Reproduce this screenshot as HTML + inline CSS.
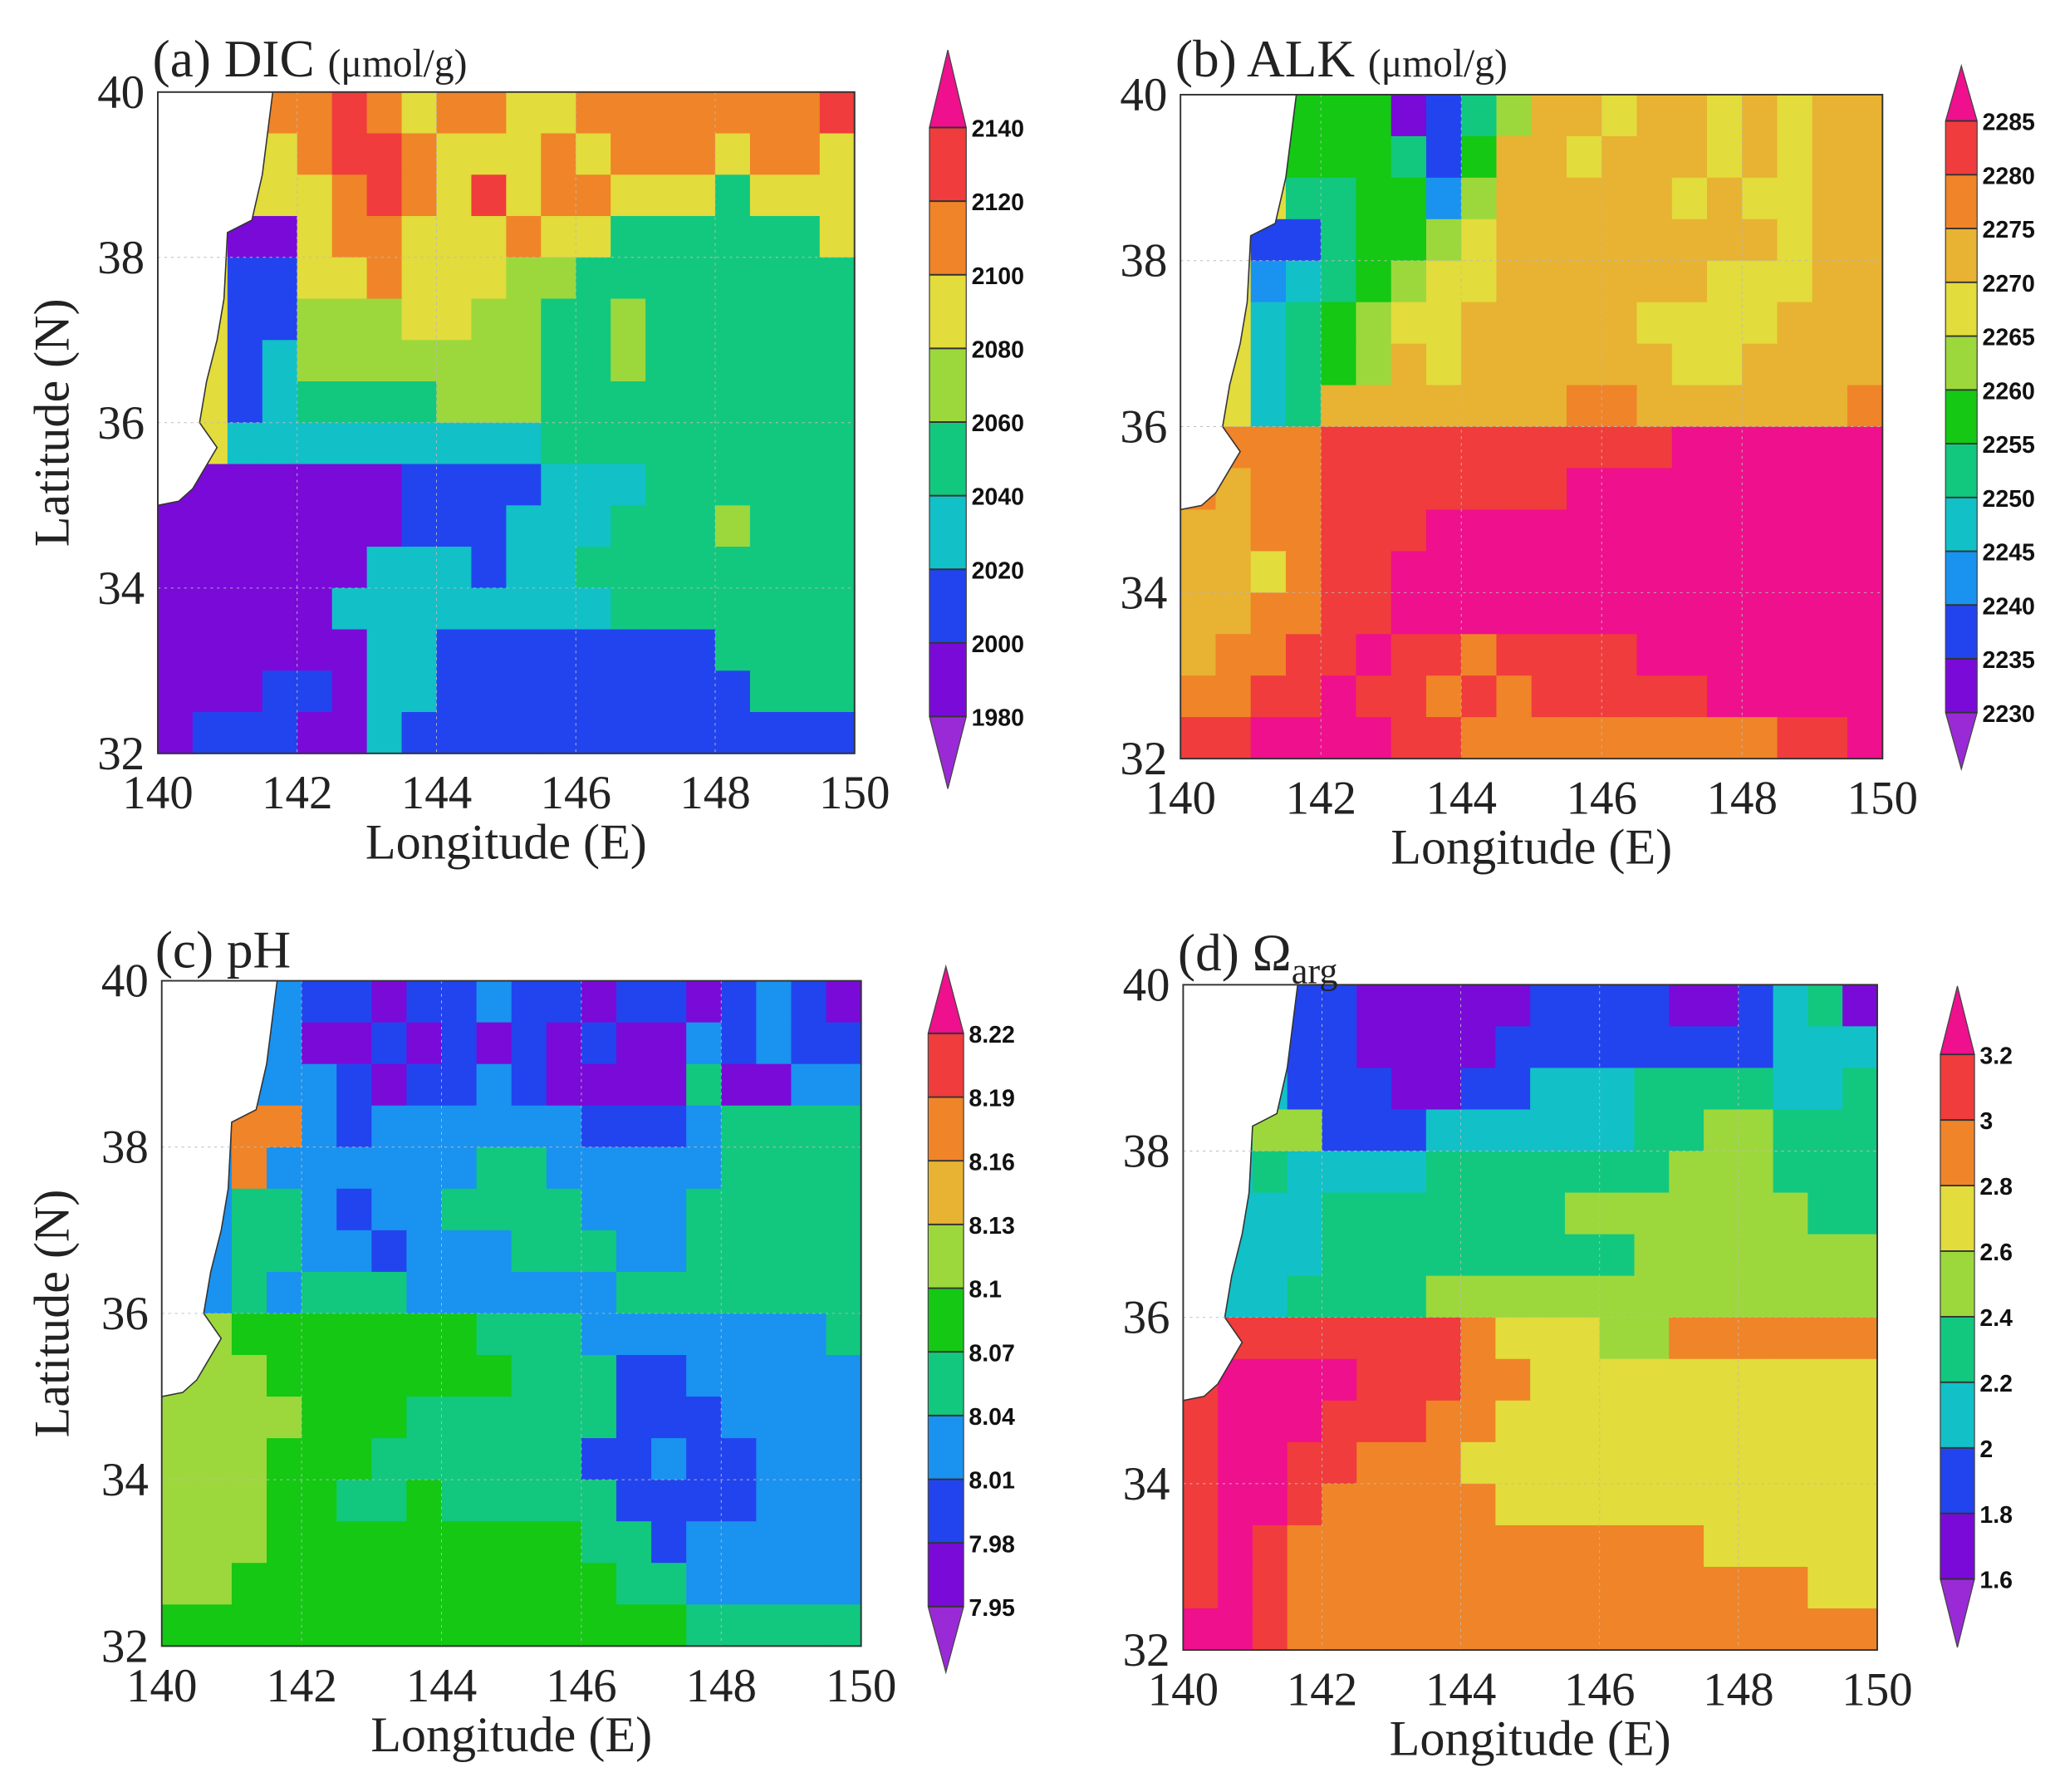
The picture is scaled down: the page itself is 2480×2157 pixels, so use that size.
<!DOCTYPE html>
<html><head><meta charset="utf-8"><style>
html,body{margin:0;padding:0;background:#fff;}
svg{display:block;}
text{font-family:"Liberation Serif",serif;fill:#222;}
.cb{font-family:"Liberation Sans",sans-serif;font-weight:bold;font-size:18px;fill:#111;}
</style></head><body>
<svg id="fig" xmlns="http://www.w3.org/2000/svg" width="2480" height="2157" viewBox="0 0 1567 1363"></svg>
<script>
const C={vi:"#9a2ad6",pu:"#7a0ad8",bl:"#2244ee",lb:"#1a92f0",cy:"#12c0c8",te:"#12c87e",gr:"#14c814",yg:"#9cd83c",ye:"#e2dc3c",oy:"#e8b232",or:"#f08428",re:"#f03c3c",ma:"#ee108c"};
const lonTicks=[140,142,144,146,148,150];
const latTicks=[32,34,36,38,40];
const levelsA=[1980,2000,2020,2040,2060,2080,2100,2120,2140];
const levelsB=[2230,2235,2240,2245,2250,2255,2260,2265,2270,2275,2280,2285];
const levelsC=["7.95","7.98","8.01","8.04","8.07","8.1","8.13","8.16","8.19","8.22"];
const levelsD=["1.6","1.8","2","2.2","2.4","2.6","2.8","3","3.2"];
// grid rows north (39.75) to south (32.25), 20 cols of 0.5 deg from 140; chars = bin index
const gridA=["66677876776677777778","66667887666767776776","66666787686776664666","66116776667664444446","66226676665544444444","66225556655445444444","66235555555445444444","66234444555444444444","66333333333444444444","11111112222333444444","11111112223334445444","11111133323344444444","11111333333334444444","11111133222222224444","11122133222222222444","12221132222222222222"];
const gridB=["88866612579989989899","88866652699899989899","88855663799999898899","88225667899999999899","88345678899999988899","88456788999998888999","88456798999999889999","88459999999aa999999a","aaaabbbbbbbbbbcccccc","a9aabbbbbbbccccccccc","99aabbbccccccccccccc","998abbcccccccccccccc","99aabbcccccccccccccc","9aabbcbbabbbbccccccc","aabbcbbababbbbbccccc","bbccccbbaaaaaaaaabbc"];
const gridC=["33332212232212212321","33331121212121132322","33333212232111141133","33883233333322234444","33833333344333334444","33443233444433344444","33443323334443344444","33434443333334444444","66555555544433333334","66655555554442233333","66665554444442223333","66655544444422322333","66655445444442222333","66655555555544233333","66555555555554433333","55555555555555544444"];
const gridD=["33322111112222112341","33322111122222222333","33322211223334444334","33552223333334455444","33433334444444555444","33334444444555555544","33334444444445555555","33344445555555555555","38888888766655777777","89999888776666666666","89998887766666666666","89988777666666666666","89987777766666666666","89877777777777766666","89877777777777777766","99877777777777777777"];
const coastLon=[140,141.65,141.5,141.35,141.0,140.95,140.85,140.7,140.6,140.85,140.5,140.3,140];
const coastLat=[40,40,39,38.45,38.3,37.5,37,36.5,36.0,35.7,35.2,35.05,35];

const NS="http://www.w3.org/2000/svg";
const svg=document.getElementById('fig');
function mk(tag,attrs,parent){const e=document.createElementNS(NS,tag);for(const k in attrs)e.setAttribute(k,attrs[k]);(parent||svg).appendChild(e);return e;}
const palA=[C.vi,C.pu,C.bl,C.cy,C.te,C.yg,C.ye,C.or,C.re,C.ma];
const palB=[C.vi,C.pu,C.bl,C.lb,C.cy,C.te,C.gr,C.yg,C.ye,C.oy,C.or,C.re,C.ma];
const palC=[C.vi,C.pu,C.bl,C.lb,C.te,C.gr,C.yg,C.oy,C.or,C.re,C.ma];

const panels=[
 {id:"a",x0:120,x1:650,y0:70,y1:573,grid:gridA,pal:palA,lv:levelsA,cbx:707,cbw:28,top:38,bot:600,ly0:97,ly1:545,showLat:true},
 {id:"b",x0:898,x1:1432,y0:72,y1:577,grid:gridB,pal:palB,lv:levelsB,cbx:1480,cbw:24,top:50,bot:585,ly0:92,ly1:542,showLat:false},
 {id:"c",x0:123,x1:655,y0:746,y1:1252,grid:gridC,pal:palC,lv:levelsC,cbx:706,cbw:27,top:735,bot:1272,ly0:786,ly1:1222,showLat:true},
 {id:"d",x0:900,x1:1428,y0:749,y1:1255,grid:gridD,pal:palA,lv:levelsD,cbx:1476,cbw:26,top:750,bot:1253,ly0:802,ly1:1201,showLat:false}
];
panels.forEach(p=>{
 const g=mk('g',{});
 
 
 const xs=lon=>p.x0+(lon-140)/10*(p.x1-p.x0);
 const ys=lat=>p.y1-(lat-32)/8*(p.y1-p.y0);
 const cw=xs(140.5)-xs(140), ch=ys(32)-ys(32.5);
 p.grid.forEach((row,r)=>{
  for(let c=0;c<row.length;c++){
   const idx=parseInt(row[c],16);
   const rc=mk('rect',{x:xs(140+0.5*c),y:ys(40-0.5*r),width:cw+0.6,height:ch+0.6,fill:p.pal[idx]},g);
   
   
  }
 });
 let pts=coastLon.map((l,i)=>xs(l)+','+ys(coastLat[i])).join(' ');
 const land=mk('polygon',{points:pts,fill:'#fff',stroke:'#333','stroke-width':1},g);
 
 
 // gridlines
 lonTicks.slice(1,-1).forEach(l=>{const ln=mk('line',{x1:xs(l),x2:xs(l),y1:p.y0,y2:p.y1,stroke:'#bbb','stroke-width':0.6,'stroke-dasharray':'2,3'},g);});
 latTicks.slice(1,-1).forEach(l=>{const ln=mk('line',{x1:p.x0,x2:p.x1,y1:ys(l),y2:ys(l),stroke:'#bbb','stroke-width':0.6,'stroke-dasharray':'2,3'},g);});
 const fr=mk('rect',{x:p.x0,y:p.y0,width:p.x1-p.x0,height:p.y1-p.y0,fill:'none',stroke:'#333','stroke-width':1.2},g);
 
 
 lonTicks.forEach(l=>{const t=mk('text',{x:xs(l),y:p.y1+42,'text-anchor':'middle','font-size':36},g);t.textContent=l;});
 latTicks.forEach(l=>{const t=mk('text',{x:p.x0-10,y:ys(l)+12,'text-anchor':'end','font-size':36},g);t.textContent=l;});
 const xt=mk('text',{x:(p.x0+p.x1)/2,y:p.y1+80,'text-anchor':'middle','font-size':38},g);
 xt.textContent='Longitude (E)';
 
 
 if(p.showLat){const yt=mk('text',{x:0,y:0,'text-anchor':'middle','font-size':38,transform:`translate(52,${(p.y0+p.y1)/2}) rotate(-90)`},g);yt.textContent='Latitude (N)';}
 // colorbar
 const n=p.lv.length, step=(p.ly1-p.ly0)/(n-1), cx=p.cbx, w=p.cbw;
 const cb=mk('g',{},g);
 
 
 for(let i=0;i<n-1;i++){const yTop=p.ly1-(i+1)*step;const r=mk('rect',{x:cx,y:yTop,width:w,height:step+0.5,fill:p.pal[i+1]},cb);}
 const tb=mk('polygon',{points:`${cx},${p.ly0} ${cx+w},${p.ly0} ${cx+w/2},${p.top}`,fill:p.pal[p.pal.length-1]},cb);
 const bb=mk('polygon',{points:`${cx},${p.ly1} ${cx+w},${p.ly1} ${cx+w/2},${p.bot}`,fill:p.pal[0]},cb);
 mk('polygon',{points:`${cx+w/2},${p.top} ${cx+w},${p.ly0} ${cx+w},${p.ly1} ${cx+w/2},${p.bot} ${cx},${p.ly1} ${cx},${p.ly0}`,fill:'none',stroke:'#444','stroke-width':0.8},cb);
 p.lv.forEach((v,i)=>{const y=p.ly1-i*step;mk('line',{x1:cx,x2:cx+w,y1:y,y2:y,stroke:'#333','stroke-width':1.2},cb);const t=mk('text',{x:cx+w+4,y:y+7,class:'cb'},cb);t.textContent=v;});
});
function title(x,y,main,sub,subSize,isSub){const t=mk('text',{x:x,y:y,'font-size':40});
 const a=mk('tspan',{},t);a.textContent=main;
 if(sub){const b=mk('tspan',{'font-size':subSize,dy:isSub?10:0},t);b.textContent=sub;}}
title(116,58,'(a) DIC ','(μmol/g)',30,false);
title(894,58,'(b) ALK ','(μmol/g)',30,false);
title(118,736,'(c) pH');
title(896,738,'(d) Ω','arg',28,true);
</script>
</body></html>
